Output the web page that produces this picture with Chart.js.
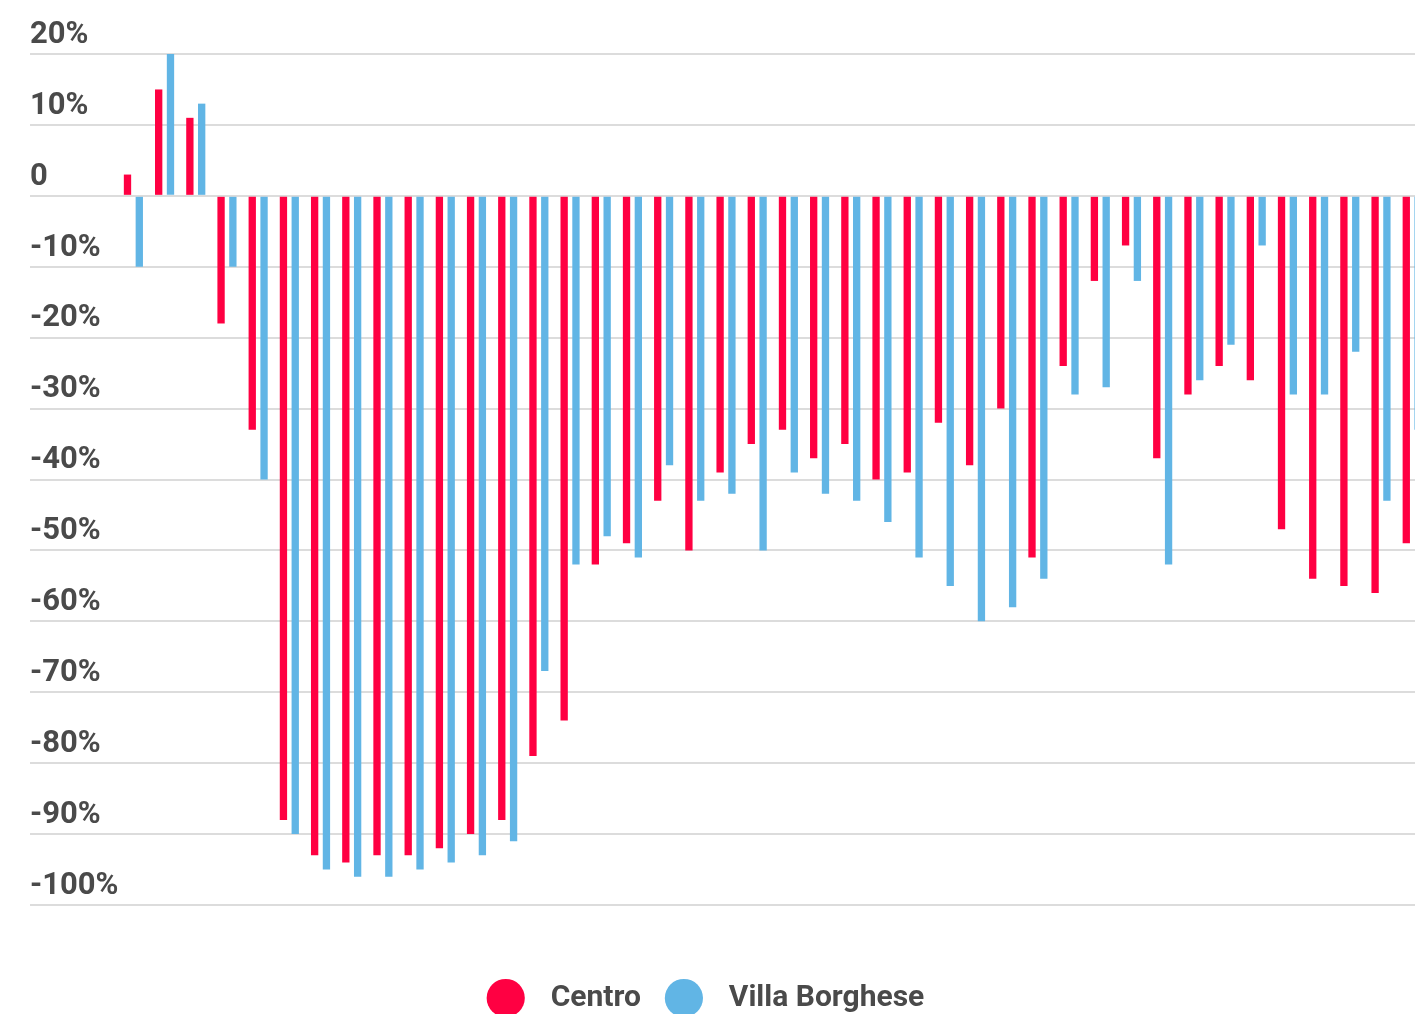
<!DOCTYPE html>
<html>
<head>
<meta charset="utf-8">
<script src="https://cdn.jsdelivr.net/npm/chart.js@4.4.0/dist/chart.umd.min.js"></script>
<style>
    html, body { margin: 0; padding: 0; background: #fff; overflow: hidden; }
    #wrap { position: absolute; left: 0; top: 0; width: 1415px; height: 1023px; }
</style>
</head>
<body>
<div id="wrap"><canvas id="chart"></canvas></div>
<script>
// Weekly change vs. previous year (%), 42 periods
const periods = [1, 2, 3, 4, 5, 6, 7, 8, 9, 10, 11, 12, 13, 14, 15, 16, 17, 18, 19, 20, 21,
                 22, 23, 24, 25, 26, 27, 28, 29, 30, 31, 32, 33, 34, 35, 36, 37, 38, 39, 40, 41, 42];

const centro = [3, 15, 11, -18, -33, -88, -93, -94, -93, -93, -92, -90, -88, -79, -74, -52, -49, -43, -50, -39, -35,
                -33, -37, -35, -40, -39, -32, -38, -30, -51, -24, -12, -7, -37, -28, -24, -26, -47, -54, -55, -56, -49];

const villaBorghese = [-10, 20, 13, -10, -40, -90, -95, -96, -96, -95, -94, -93, -91, -67, -52, -48, -51, -38, -43, -42, -50,
                       -39, -42, -43, -46, -51, -55, -60, -58, -54, -28, -27, -12, -52, -26, -21, -7, -28, -28, -22, -43, -33];

const yTicks = [20, 10, 0, -10, -20, -30, -40, -50, -60, -70, -80, -90, -100];

const RED = '#ff0042';
const BLUE = '#61b5e5';
const TEXT = '#4a4a4a';

const ctx = document.getElementById('chart').getContext('2d');

new Chart(ctx, {
    type: 'bar',
    data: {
        labels: periods,
        datasets: [
            { label: 'Centro', data: centro, backgroundColor: RED, borderWidth: 0 },
            { label: 'Villa Borghese', data: villaBorghese, backgroundColor: BLUE, borderWidth: 0 }
        ]
    },
    options: {
        responsive: true,
        maintainAspectRatio: false,
        animation: false,
        categoryPercentage: 0.757,
        barPercentage: 0.62,
        layout: { padding: { top: 54, left: 0, right: 0, bottom: 0 } },
        scales: {
            x: {
                type: 'linear',
                offset: false,
                min: -2.315,
                max: 42.09,
                bounds: 'data',
                grid: { display: false },
                border: { display: false },
                ticks: { display: false, stepSize: 10, includeBounds: false },
                afterFit: (scale) => { scale.height = 50; }
            },
            y: {
                min: -100,
                max: 20,
                afterBuildTicks: (scale) => {
                    scale.ticks = yTicks.map(v => ({ value: v }));
                },
                grid: { color: '#dcdcdc', lineWidth: 2, drawTicks: false },
                border: { display: false },
                ticks: {
                    mirror: true,
                    padding: 0,
                    labelOffset: -19,
                    color: TEXT,
                    font: { family: 'Roboto', size: 31, weight: '700' },
                    callback: (value) => value === 0 ? '0' : value + '%'
                },
                afterFit: (scale) => { scale.width = 30; }
            }
        },
        plugins: {
            tooltip: { enabled: false },
            legend: {
                position: 'bottom',
                labels: {
                    usePointStyle: true,
                    pointStyle: 'circle',
                    boxWidth: 30,
                    boxHeight: 27,
                    padding: 28,
                    color: TEXT,
                    font: { family: 'Roboto', size: 30, weight: '700' },
                    generateLabels: (chart) =>
                        Chart.defaults.plugins.legend.labels.generateLabels(chart)
                            .map(item => ({ ...item, text: '  ' + item.text }))
                }
            }
        }
    }
});
</script>
</body>
</html>
